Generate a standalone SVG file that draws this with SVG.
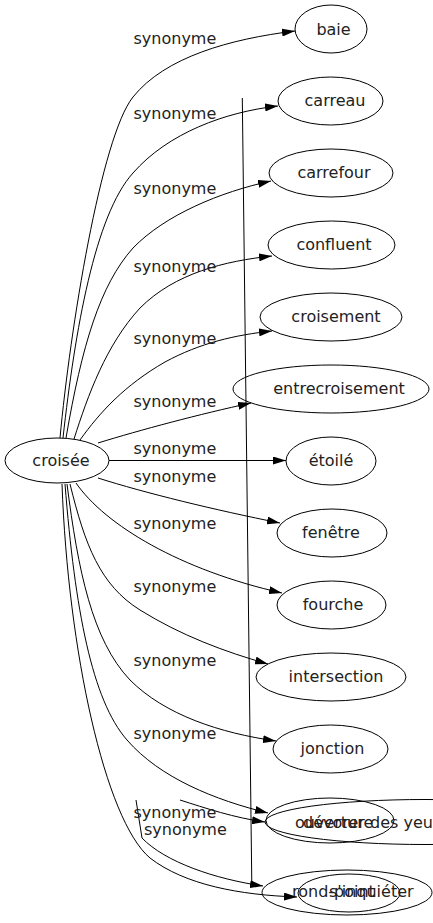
<svg xmlns="http://www.w3.org/2000/svg" width="433" height="923" viewBox="0 0 433 923">
<style>
.edge{fill:none;stroke:#000;stroke-width:1}
.lbl{font-family:"DejaVu Sans","Liberation Sans",sans-serif;font-size:16px;fill:#222}
.node ellipse{fill:none;stroke:#000;stroke-width:1}
.node text{font-family:"DejaVu Sans","Liberation Sans",sans-serif;font-size:16px;fill:#222;text-anchor:middle}
.node text.st{text-anchor:start}
</style>
<defs>
<marker id="arr" markerUnits="userSpaceOnUse" markerWidth="13" markerHeight="8" refX="13" refY="4" orient="auto">
<path d="M0,0 L13,4 L0,8 z" fill="#000"/>
</marker>
</defs>
<rect width="433" height="923" fill="#fff"/>
<g id="croisee" class="node"><ellipse cx="57" cy="460.5" rx="52" ry="22.5"/><text x="61" y="466">croisée</text></g>
<g id="baie" class="node"><ellipse cx="331" cy="29" rx="36" ry="24"/><text x="333.5" y="34.5">baie</text></g>
<g id="carreau" class="node"><ellipse cx="330.5" cy="101" rx="52.5" ry="24"/><text x="335" y="106">carreau</text></g>
<g id="carrefour" class="node"><ellipse cx="331" cy="173" rx="62" ry="24"/><text x="334" y="178">carrefour</text></g>
<g id="confluent" class="node"><ellipse cx="331.5" cy="245" rx="63.5" ry="24"/><text x="334" y="250">confluent</text></g>
<g id="croisement" class="node"><ellipse cx="331" cy="317" rx="71" ry="24"/><text x="336" y="322">croisement</text></g>
<g id="entrecroisement" class="node"><ellipse cx="331" cy="389" rx="98" ry="24"/><text x="339" y="394">entrecroisement</text></g>
<g id="etoile" class="node"><ellipse cx="331" cy="461" rx="45" ry="24"/><text x="331" y="466">étoilé</text></g>
<g id="fenetre" class="node"><ellipse cx="332" cy="533" rx="55" ry="24"/><text x="331" y="538">fenêtre</text></g>
<g id="fourche" class="node"><ellipse cx="331.5" cy="605" rx="54.5" ry="24"/><text x="333" y="610">fourche</text></g>
<g id="intersection" class="node"><ellipse cx="331" cy="677" rx="75" ry="24"/><text x="336" y="682">intersection</text></g>
<g id="jonction" class="node"><ellipse cx="330.5" cy="749" rx="57.5" ry="24"/><text x="332.5" y="754">jonction</text></g>
<g id="ouverture" class="node"><ellipse cx="330" cy="820.5" rx="64" ry="22.5"/><text class="st" x="295" y="828">ouverture</text></g>
<g id="devorer" class="node"><ellipse cx="425" cy="822" rx="160" ry="22.5"/><text class="st" x="303" y="828">dévorer des yeux</text></g>
<g id="rondpoint" class="node"><ellipse cx="347" cy="892.5" rx="85" ry="22.5"/><text class="st" x="292" y="897">rond-point</text></g>
<g id="sinquieter" class="node"><ellipse cx="349" cy="893" rx="51" ry="19"/><text class="st" x="329" y="897">s'inquiéter</text></g>
<g id="connectors">
<path class="edge" marker-end="url(#arr)" d="M60,438 C70,330 101,137 133,97 C165,57 230,39 295,31"/>
<path class="edge" marker-end="url(#arr)" d="M63,438 C75,330 95,215 133,173 C168,133 225,112 278,106"/>
<path class="edge" marker-end="url(#arr)" d="M66,438 C82,345 100,285 133,248 C165,215 220,192 271,181"/>
<path class="edge" marker-end="url(#arr)" d="M74,439 C88,395 106,345 140,308 C175,273 225,261 272,256"/>
<path class="edge" marker-end="url(#arr)" d="M80,440 C100,412 125,385 165,362 C200,343 235,335 272,331"/>
<path class="edge" marker-end="url(#arr)" d="M98,443 C140,430 200,414 251,403"/>
<path class="edge" marker-end="url(#arr)" d="M109,460.5 L286,460.5"/>
<path class="edge" marker-end="url(#arr)" d="M98,478 C145,493 215,510 280,523"/>
<path class="edge" marker-end="url(#arr)" d="M76,483 C105,525 180,570 282,593"/>
<path class="edge" marker-end="url(#arr)" d="M70,484 C85,545 100,585 140,610 C180,635 225,652 268,664"/>
<path class="edge" marker-end="url(#arr)" d="M67,484 C78,570 92,640 130,680 C165,715 220,733 276,741"/>
<path class="edge" marker-end="url(#arr)" d="M65,484 C75,610 92,700 127,740 C160,778 215,800 268,813"/>
<path class="edge" marker-end="url(#arr)" d="M180,800 C205,808 235,818 265,822"/>
<path class="edge" marker-end="url(#arr)" d="M62,484 C68,650 105,820 150,858 C185,885 240,895 297,897"/>
<path class="edge" marker-end="url(#arr)" d="M136,800 L142,838 C165,862 215,879 263,886"/>
<path class="edge" d="M242.3,98 L251.8,884"/>
<text class="lbl" x="133.5" y="44">synonyme</text>
<text class="lbl" x="133.5" y="119">synonyme</text>
<text class="lbl" x="133.5" y="194">synonyme</text>
<text class="lbl" x="133.5" y="272">synonyme</text>
<text class="lbl" x="133.5" y="344">synonyme</text>
<text class="lbl" x="133.5" y="407">synonyme</text>
<text class="lbl" x="133.5" y="454">synonyme</text>
<text class="lbl" x="133.5" y="482">synonyme</text>
<text class="lbl" x="133.5" y="529">synonyme</text>
<text class="lbl" x="133.5" y="592">synonyme</text>
<text class="lbl" x="133.5" y="666">synonyme</text>
<text class="lbl" x="133.5" y="739">synonyme</text>
<text class="lbl" x="133.5" y="818">synonyme</text>
<text class="lbl" x="144" y="835">synonyme</text>
</g>
</svg>
